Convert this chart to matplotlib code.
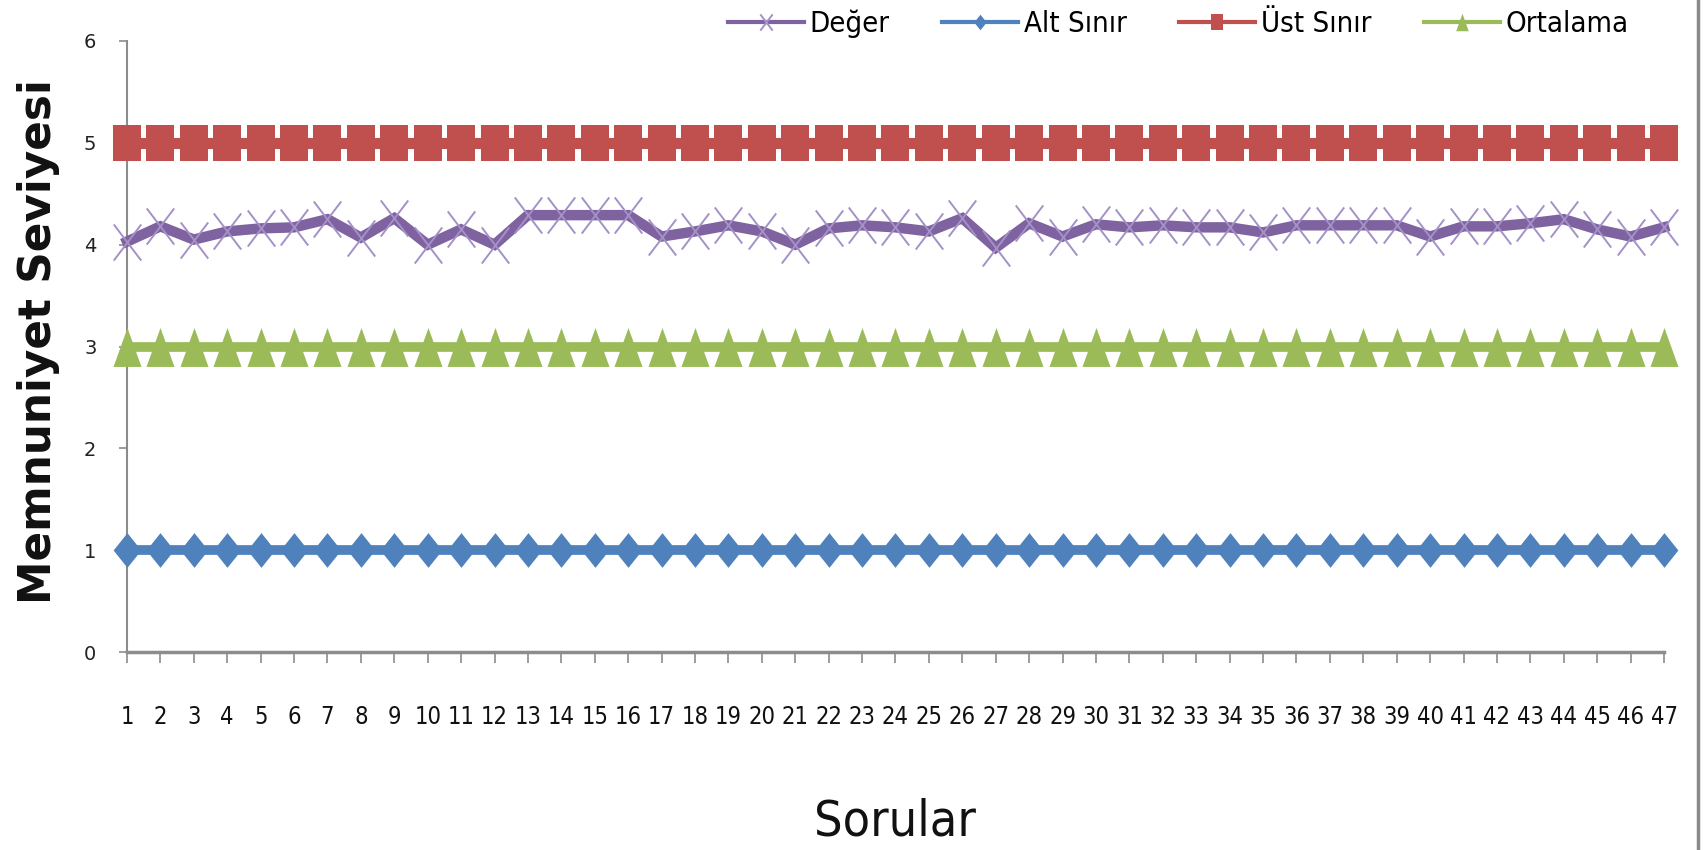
import matplotlib
matplotlib.use("Agg")
import matplotlib.pyplot as plt
from matplotlib.path import Path
from matplotlib.lines import Line2D
from matplotlib import font_manager as fm

# ---------------- data ----------------
sorular = list(range(1, 48))
deger = [4.03, 4.18, 4.05, 4.13, 4.16, 4.17, 4.25, 4.07, 4.26, 4.00,
         4.15, 4.00, 4.29, 4.29, 4.29, 4.29, 4.08, 4.13, 4.19, 4.13,
         4.00, 4.16, 4.19, 4.17, 4.13, 4.26, 3.97, 4.21, 4.08, 4.20,
         4.17, 4.19, 4.17, 4.17, 4.12, 4.19, 4.19, 4.19, 4.19, 4.08,
         4.18, 4.18, 4.21, 4.25, 4.15, 4.08, 4.17]
alt_sinir = [1, 1, 1, 1, 1, 1, 1, 1, 1, 1, 1, 1, 1, 1, 1, 1, 1, 1, 1, 1,
             1, 1, 1, 1, 1, 1, 1, 1, 1, 1, 1, 1, 1, 1, 1, 1, 1, 1, 1, 1,
             1, 1, 1, 1, 1, 1, 1]
ust_sinir = [5, 5, 5, 5, 5, 5, 5, 5, 5, 5, 5, 5, 5, 5, 5, 5, 5, 5, 5, 5,
             5, 5, 5, 5, 5, 5, 5, 5, 5, 5, 5, 5, 5, 5, 5, 5, 5, 5, 5, 5,
             5, 5, 5, 5, 5, 5, 5]
ortalama = [3, 3, 3, 3, 3, 3, 3, 3, 3, 3, 3, 3, 3, 3, 3, 3, 3, 3, 3, 3,
            3, 3, 3, 3, 3, 3, 3, 3, 3, 3, 3, 3, 3, 3, 3, 3, 3, 3, 3, 3,
            3, 3, 3, 3, 3, 3, 3]
series_names = ["Değer", "Alt Sınır", "Üst Sınır", "Ortalama"]
y_ticks = [0, 1, 2, 3, 4, 5, 6]
x_title = "Sorular"
y_title = "Memnuniyet Seviyesi"

# ---------------- fonts ----------------
names = {f.name for f in fm.fontManager.ttflist}
if "Liberation Sans Narrow" in names:
    NARROW = dict(family="Liberation Sans Narrow")
else:
    NARROW = dict(family="DejaVu Sans", stretch="condensed")

# ---------------- tall markers (image is vertically stretched) ----------------
def rect_marker(w):
    return Path([(-w, -1), (w, -1), (w, 1), (-w, 1), (-w, -1)],
                [Path.MOVETO, Path.LINETO, Path.LINETO, Path.LINETO, Path.CLOSEPOLY])

def diamond_marker(w):
    return Path([(0, -1), (w, 0), (0, 1), (-w, 0), (0, -1)],
                [Path.MOVETO, Path.LINETO, Path.LINETO, Path.LINETO, Path.CLOSEPOLY])

def tri_marker(w):
    return Path([(-w, -1), (w, -1), (0, 1), (-w, -1)],
                [Path.MOVETO, Path.LINETO, Path.LINETO, Path.CLOSEPOLY])

def x_marker(w):
    return Path([(-w, -1), (w, 1), (-w, 1), (w, -1)],
                [Path.MOVETO, Path.LINETO, Path.MOVETO, Path.LINETO])

PURPLE = "#7F62A0"
PURPLE_M = "#A391C8"
BLUE = "#4F81BD"
RED = "#C0504D"
GREEN = "#9BBB59"
AXIS = "#8C8C8C"

fig = plt.figure(figsize=(17.04, 8.5), dpi=100)
ax = fig.add_axes([127 / 1704, 1 - 652 / 850, (1664 - 127) / 1704, (652 - 41) / 850])

l1, = ax.plot(sorular, deger, color=PURPLE, lw=7.5, marker=x_marker(0.76),
              markersize=26, markeredgecolor=PURPLE_M, markerfacecolor="none",
              markeredgewidth=1.4, clip_on=False, zorder=5, solid_joinstyle="miter")
l2, = ax.plot(sorular, alt_sinir, color=BLUE, lw=7, marker=diamond_marker(0.8),
              markersize=25, markeredgecolor=BLUE, markerfacecolor=BLUE,
              markeredgewidth=0, clip_on=False, zorder=4)
l3, = ax.plot(sorular, ust_sinir, color=RED, lw=8, marker=rect_marker(0.78),
              markersize=26, markeredgecolor=RED, markerfacecolor=RED,
              markeredgewidth=0, clip_on=False, zorder=4)
l4, = ax.plot(sorular, ortalama, color=GREEN, lw=7, marker=tri_marker(0.72),
              markersize=28, markeredgecolor=GREEN, markerfacecolor=GREEN,
              markeredgewidth=0, clip_on=False, zorder=4)

ax.set_xlim(1, 47)
ax.set_ylim(0, 6)
ax.set_xticks(sorular)
ax.set_xticklabels([str(s) for s in sorular], fontsize=17, color="#111111", **NARROW)
ax.set_yticks(y_ticks)
ax.set_yticklabels([str(v) for v in y_ticks], fontsize=14, color="#222222",
                   family="DejaVu Sans")

for s in ["top", "right"]:
    ax.spines[s].set_visible(False)
ax.spines["left"].set_color(AXIS)
ax.spines["left"].set_linewidth(1.5)
ax.spines["bottom"].set_color(AXIS)
ax.spines["bottom"].set_linewidth(2.5)
ax.tick_params(axis="x", direction="out", length=8, width=1.2, color=AXIS, pad=30)
ax.tick_params(axis="y", direction="out", length=6, width=1.2, color=AXIS, pad=16)

# axis titles
fig.text(39 / 1704, 1 - 342 / 850, y_title, rotation=90, ha="center", va="center",
         fontsize=31.5, fontweight="bold", family="DejaVu Sans", color="#111111")
fig.text(895 / 1704, 1 - 822 / 850, x_title, ha="center", va="center",
         fontsize=36, color="#111111", **NARROW)

# legend
leg = fig.legend([l1, l2, l3, l4], series_names, loc="center left",
                 bbox_to_anchor=(728 / 1704, 1 - 24 / 850), ncol=4, frameon=False,
                 prop=fm.FontProperties(size=21, **NARROW),
                 handlelength=2.6, handletextpad=0.2, columnspacing=1.8,
                 borderpad=0, borderaxespad=0, markerscale=0.45)
for ln in leg.get_lines():
    ln.set_linewidth(3)

# chart border fragment at the right
fig.add_artist(Line2D([1698 / 1704, 1698 / 1704], [0, 1], transform=fig.transFigure,
                      color="#8A8A8A", lw=2.5))

fig.savefig("out.png", dpi=100)
